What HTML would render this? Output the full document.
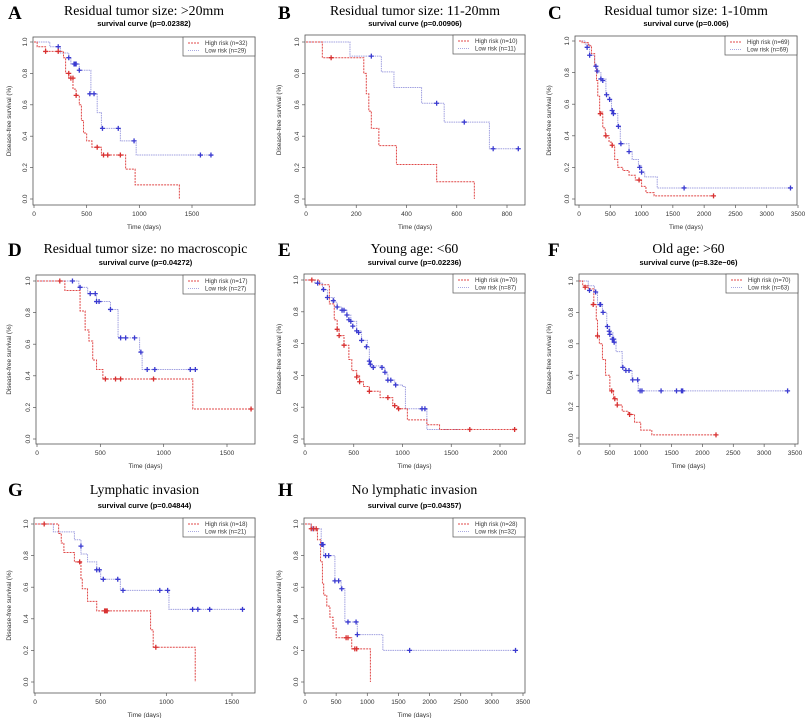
<!DOCTYPE html>
<html><head><meta charset="utf-8"><style>
html,body{margin:0;padding:0;background:#fff;}
svg{display:block;}
</style></head><body>
<svg id="s" width="810" height="718" xmlns="http://www.w3.org/2000/svg"></svg>
<script>
const S=document.getElementById('s');
let out='';
const P=[
 {L:'A',t:'Residual tumor size: >20mm',p:'0.02382',ox:0,bx:[33,255],by:[37,205],y1:42,y0:199,x0:34,xr:[1500,192],ticks:[0,500,1000,1500],n:[32,29],lx:8,ly:19,ty:15,sy:26,
  hi:[[0,1],[30,.97],[110,.94],[280,.9],[300,.8],[330,.77],[370,.7],[400,.66],[430,.6],[450,.5],[470,.42],[500,.37],[550,.33],[640,.28],[870,.19],[960,.09],[1380,0],[1380,0]],
  hc:[[110,.94],[230,.94],[330,.8],[350,.77],[370,.77],[400,.66],[600,.33],[660,.28],[700,.28],[820,.28]],
  lo:[[0,1],[150,.97],[250,.93],[330,.9],[350,.86],[430,.82],[540,.67],[600,.55],[640,.45],[820,.37],[970,.28],[1680,.28]],
  lc:[[230,.97],[330,.9],[380,.86],[390,.86],[400,.86],[430,.82],[530,.67],[570,.67],[650,.45],[800,.45],[950,.37],[1580,.28],[1680,.28]]},
 {L:'B',t:'Residual tumor size: 11-20mm',p:'0.00906',ox:270,bx:[305,525],by:[35,205],y1:42,y0:199,x0:306,xr:[800,507],ticks:[0,200,400,600,800],n:[10,11],lx:8,ly:19,ty:15,sy:26,
  hi:[[0,1],[65,.9],[230,.8],[240,.67],[250,.56],[260,.45],[290,.34],[360,.22],[520,.11],[670,0],[670,0]],
  hc:[[100,.9]],
  lo:[[0,1],[175,.91],[300,.81],[350,.71],[460,.61],[550,.49],[730,.32],[845,.32]],
  lc:[[260,.91],[520,.61],[630,.49],[745,.32],[845,.32]]},
 {L:'C',t:'Residual tumor size: 1-10mm',p:'0.006',ox:540,bx:[575,797],by:[36,205],y1:41,y0:199,x0:579,xr:[3500,798],ticks:[0,500,1000,1500,2000,2500,3000,3500],n:[69,69],lx:8,ly:19,ty:15,sy:26,
  hi:[[0,1],[50,.99],[150,.97],[200,.92],[250,.85],[280,.75],[300,.65],[330,.55],[380,.45],[420,.4],[480,.36],[530,.33],[570,.25],[620,.2],[700,.18],[800,.15],[900,.12],[1000,.08],[1070,.04],[1200,.02],[2150,.02]],
  hc:[[340,.54],[430,.4],[530,.34],[960,.12],[2150,.02]],
  lo:[[0,1],[100,.98],[170,.91],[250,.84],[300,.8],[350,.76],[430,.66],[480,.63],[520,.56],[560,.54],[620,.46],[660,.35],[800,.3],[850,.25],[950,.21],[1000,.17],[1050,.14],[1250,.07],[3380,.07]],
  lc:[[130,.96],[170,.91],[270,.84],[290,.81],[350,.76],[380,.75],[440,.66],[490,.63],[530,.56],[550,.54],[630,.46],[670,.35],[800,.3],[970,.2],[1000,.17],[1680,.07],[3380,.07]]},
 {L:'D',t:'Residual tumor size: no macroscopic',p:'0.04272',ox:0,bx:[36,255],by:[275,444],y1:281,y0:439,x0:37,xr:[1500,227],ticks:[0,500,1000,1500],n:[17,27],lx:8,ly:256,ty:253,sy:265,
  hi:[[0,1],[220,.94],[340,.81],[380,.69],[410,.62],[440,.5],[470,.44],[520,.38],[1230,.19],[1690,.19]],
  hc:[[180,1],[540,.38],[620,.38],[660,.38],[920,.38],[1690,.19]],
  lo:[[0,1],[330,.96],[400,.92],[470,.87],[580,.82],[640,.64],[810,.55],[830,.44],[1250,.44]],
  lc:[[280,1],[340,.96],[420,.92],[460,.92],[470,.87],[490,.87],[580,.82],[660,.64],[700,.64],[770,.64],[820,.55],[870,.44],[930,.44],[1210,.44],[1250,.44]]},
 {L:'E',t:'Young age: <60',p:'0.02236',ox:270,bx:[304,525],by:[274,444],y1:280,y0:439,x0:305,xr:[2000,500],ticks:[0,500,1000,1500,2000],n:[70,87],lx:8,ly:256,ty:253,sy:265,
  hi:[[0,1],[150,.97],[250,.85],[300,.75],[330,.69],[350,.65],[400,.59],[450,.5],[480,.43],[530,.4],[560,.36],[600,.33],[660,.3],[770,.26],[900,.21],[950,.19],[1050,.12],[1250,.09],[1380,.06],[2150,.06]],
  hc:[[70,1],[330,.69],[350,.65],[400,.59],[530,.39],[560,.36],[660,.3],[850,.26],[920,.21],[960,.19],[1690,.06],[2150,.06]],
  lo:[[0,1],[100,.98],[180,.94],[230,.89],[300,.86],[330,.83],[380,.81],[430,.78],[470,.74],[530,.68],[580,.62],[640,.58],[660,.49],[680,.46],[780,.45],[820,.41],[850,.37],[920,.34],[1000,.33],[1030,.19],[1250,.06],[1580,.06]],
  lc:[[130,.98],[190,.94],[230,.89],[290,.87],[330,.83],[380,.81],[400,.81],[430,.78],[450,.75],[470,.74],[490,.71],[530,.68],[550,.67],[580,.62],[630,.58],[660,.49],[670,.47],[700,.45],[790,.45],[820,.42],[850,.37],[880,.37],[930,.34],[1200,.19],[1230,.19]]},
 {L:'F',t:'Old age: >60',p:'8.32e\u221206',ox:540,bx:[579,798],by:[274,444],y1:281,y0:438,x0:579,xr:[3500,795],ticks:[0,500,1000,1500,2000,2500,3000,3500],n:[70,63],lx:8,ly:256,ty:253,sy:265,
  hi:[[0,1],[60,.97],[150,.95],[240,.85],[280,.75],[300,.65],[330,.6],[380,.5],[430,.4],[500,.3],[560,.25],[620,.21],[700,.17],[800,.15],[900,.1],[1000,.05],[1180,.02],[2220,.02]],
  hc:[[100,.96],[230,.85],[300,.65],[530,.3],[580,.25],[620,.21],[820,.15],[2220,.02]],
  lo:[[0,1],[150,.97],[250,.93],[300,.85],[380,.8],[450,.71],[500,.67],[550,.63],[600,.55],[700,.45],[750,.43],[860,.37],[960,.3],[3380,.3]],
  lc:[[170,.94],[270,.93],[340,.85],[350,.85],[390,.8],[460,.71],[490,.68],[500,.66],[540,.63],[560,.63],[570,.61],[710,.45],[760,.43],[810,.43],[870,.37],[950,.37],[990,.3],[1020,.3],[1330,.3],[1580,.3],[1660,.3],[1680,.3],[3380,.3]]},
 {L:'G',t:'Lymphatic invasion',p:'0.04844',ox:0,bx:[34,255],by:[518,693],y1:524,y0:682,x0:35,xr:[1500,232],ticks:[0,500,1000,1500],n:[18,21],lx:8,ly:496,ty:494,sy:508,
  hi:[[0,1],[180,.94],[200,.88],[220,.82],[300,.76],[350,.65],[360,.59],[400,.51],[470,.45],[880,.33],[900,.22],[1220,0],[1220,0]],
  hc:[[70,1],[340,.76],[530,.45],[540,.45],[550,.45],[920,.22]],
  lo:[[0,1],[140,.95],[300,.9],[350,.81],[400,.76],[470,.71],[500,.65],[650,.58],[1020,.46],[1580,.46]],
  lc:[[350,.86],[470,.71],[490,.71],[520,.65],[630,.65],[670,.58],[950,.58],[1010,.58],[1200,.46],[1240,.46],[1330,.46],[1580,.46]]},
 {L:'H',t:'No lymphatic invasion',p:'0.04357',ox:270,bx:[304,525],by:[518,693],y1:524,y0:682,x0:305,xr:[3500,523],ticks:[0,500,1000,1500,2000,2500,3000,3500],n:[28,32],lx:8,ly:496,ty:494,sy:508,
  hi:[[0,1],[100,.97],[200,.9],[250,.76],[280,.62],[300,.55],[350,.48],[400,.41],[450,.34],[500,.28],[750,.21],[1050,0],[1050,0]],
  hc:[[100,.97],[140,.97],[180,.97],[660,.28],[690,.28],[800,.21],[830,.21]],
  lo:[[0,1],[100,.97],[260,.87],[300,.8],[480,.64],[580,.59],[640,.38],[840,.3],[1250,.2],[3380,.2]],
  lc:[[130,.97],[270,.87],[290,.87],[330,.8],[380,.8],[480,.64],[540,.64],[590,.59],[690,.38],[820,.38],[840,.3],[1680,.2],[3380,.2]]}
];
for(const d of P){
 const X=t=>d.x0+(t/d.xr[0])*(d.xr[1]-d.x0);
 const Y=v=>d.y0+(d.y1-d.y0)*v;
 const cx=(d.bx[0]+d.bx[1])/2;
 out+=`<text x="${d.ox+d.lx}" y="${d.ly}" font-family="Liberation Serif,serif" font-weight="bold" font-size="19">${d.L}</text>`;
 out+=`<text x="${cx}" y="${d.ty}" text-anchor="middle" font-family="Liberation Serif,serif" font-size="13.8">${d.t.replace('<','&lt;').replace('>','&gt;')}</text>`;
 out+=`<text x="${cx}" y="${d.sy}" text-anchor="middle" font-family="Liberation Sans,sans-serif" font-weight="bold" font-size="7.5">survival curve (p=${d.p})</text>`;
 out+=`<rect x="${d.bx[0]}" y="${d.by[0]}" width="${d.bx[1]-d.bx[0]}" height="${d.by[1]-d.by[0]}" fill="none" stroke="#555" stroke-width="0.8"/>`;
 for(let i=0;i<=5;i++){const v=i/5,y=Y(v);
  out+=`<line x1="${d.bx[0]-3}" x2="${d.bx[0]}" y1="${y}" y2="${y}" stroke="#555" stroke-width="0.7"/>`;
  out+=`<text transform="translate(${d.bx[0]-6},${y}) rotate(-90)" text-anchor="middle" font-family="Liberation Sans,sans-serif" font-size="6.5" fill="#333">${v.toFixed(1)}</text>`;}
 for(const t of d.ticks){const x=X(t);
  out+=`<line x1="${x}" x2="${x}" y1="${d.by[1]}" y2="${d.by[1]+3}" stroke="#555" stroke-width="0.7"/>`;
  out+=`<text x="${x}" y="${d.by[1]+11}" text-anchor="middle" font-family="Liberation Sans,sans-serif" font-size="6.5" fill="#333">${t}</text>`;}
 out+=`<text x="${cx}" y="${d.by[1]+24}" text-anchor="middle" font-family="Liberation Sans,sans-serif" font-size="6.5" fill="#333">Time (days)</text>`;
 out+=`<text transform="translate(${d.ox+11},${(d.by[0]+d.by[1])/2}) rotate(-90)" text-anchor="middle" font-family="Liberation Sans,sans-serif" font-size="6.3" fill="#333">Disease-free survival (%)</text>`;
 const lx=d.bx[1]-72, ly=d.by[0];
 out+=`<rect x="${lx}" y="${ly}" width="72" height="19" fill="#fff" stroke="#555" stroke-width="0.7"/>`;
 out+=`<line x1="${lx+5}" x2="${lx+17}" y1="${ly+6}" y2="${ly+6}" stroke="#e04848" stroke-dasharray="2,1" stroke-width="0.9"/>`;
 out+=`<line x1="${lx+5}" x2="${lx+17}" y1="${ly+13.5}" y2="${ly+13.5}" stroke="#a8a8e0" stroke-dasharray="1,1" stroke-width="0.9"/>`;
 out+=`<text x="${lx+22}" y="${ly+8}" font-family="Liberation Sans,sans-serif" font-size="6" fill="#333">High risk (n=${d.n[0]})</text>`;
 out+=`<text x="${lx+22}" y="${ly+15.5}" font-family="Liberation Sans,sans-serif" font-size="6" fill="#333">Low risk (n=${d.n[1]})</text>`;
 const path=a=>{let s=`M${X(a[0][0])},${Y(a[0][1])}`;for(let i=1;i<a.length;i++){s+=`H${X(a[i][0])}V${Y(a[i][1])}`;}return s;};
 const cens=(a,c)=>{let s='';for(const [t,v] of a){const x=X(t),y=Y(v);s+=`M${x-2.5},${y}h5M${x},${y-2.5}v5`;}return `<path d="${s}" stroke="${c}" stroke-width="1.3" fill="none"/>`;};
 out+=`<path d="${path(d.lo)}" fill="none" stroke="#a0a0e0" stroke-width="1" stroke-dasharray="1.5,0.8"/>`;
 out+=`<path d="${path(d.hi)}" fill="none" stroke="#e04848" stroke-width="1" stroke-dasharray="2,1"/>`;
 out+=cens(d.lc,'#3a3ad0');
 out+=cens(d.hc,'#d83030');
}
S.innerHTML=out;
</script>
</body></html>
